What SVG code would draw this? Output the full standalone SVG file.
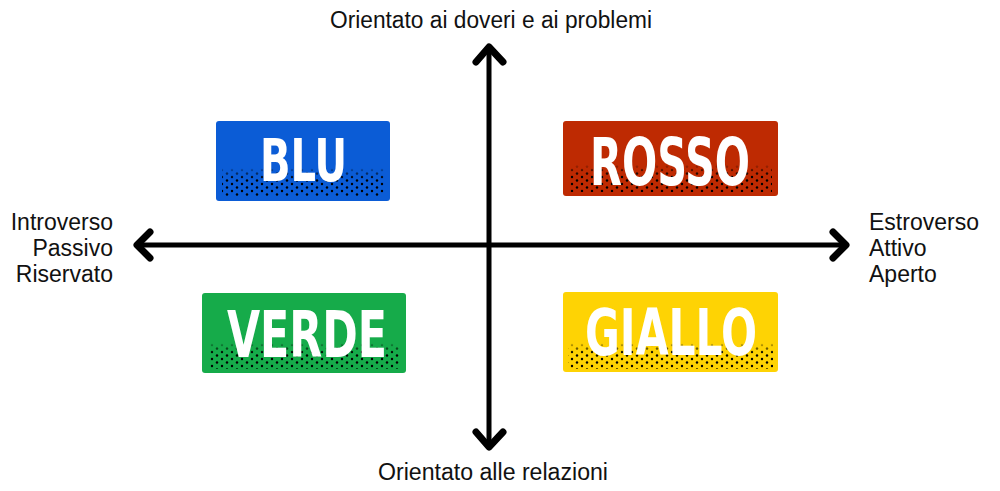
<svg xmlns="http://www.w3.org/2000/svg" width="1000" height="491" viewBox="0 0 1000 491">
<style>
.lbl{font-family:"Liberation Sans",Arial,sans-serif;font-size:23px;fill:#111}
.big{font-family:"DejaVu Sans Condensed","DejaVu Sans",sans-serif;font-weight:bold;fill:#fff;text-anchor:middle}
.ax{stroke:#000;stroke-width:5;stroke-linecap:round;fill:none}
.ah{stroke:#000;stroke-width:7;stroke-linecap:round;stroke-linejoin:round;fill:none}
</style>
<defs>
<pattern id="dots" width="10" height="7" patternUnits="userSpaceOnUse">
<circle cx="2" cy="2" r="1.2" fill="#000"/>
<circle cx="7" cy="5.5" r="1.2" fill="#000"/>
</pattern>
<linearGradient id="fade" x1="0" y1="0" x2="0" y2="1">
<stop offset="0" stop-color="#fff" stop-opacity="0.1"/>
<stop offset="0.4" stop-color="#fff" stop-opacity="1"/>
<stop offset="1" stop-color="#fff" stop-opacity="1"/>
</linearGradient>
<mask id="m" maskContentUnits="objectBoundingBox">
<rect x="0" y="0" width="1" height="1" fill="url(#fade)"/>
</mask>
</defs>
<rect width="1000" height="491" fill="#fff"/>

<g id="blu">
<rect x="216" y="121" width="174" height="80" rx="3" fill="#0b5cd6"/>
<rect x="222" y="168" width="162" height="28" fill="url(#dots)" mask="url(#m)"/>
<text class="big" x="303.5" y="181" font-size="59" textLength="87" lengthAdjust="spacingAndGlyphs">BLU</text>
</g>
<g id="rosso">
<rect x="563" y="121" width="215" height="75" rx="3" fill="#be2a02"/>
<rect x="570" y="165" width="202" height="27" fill="url(#dots)" mask="url(#m)"/>
<text class="big" x="670" y="185" font-size="65" textLength="160" lengthAdjust="spacingAndGlyphs">ROSSO</text>
</g>
<g id="verde">
<rect x="202" y="293" width="204" height="80" rx="3" fill="#16ab4a"/>
<rect x="210" y="343" width="190" height="26" fill="url(#dots)" mask="url(#m)"/>
<text class="big" x="307" y="357" font-size="64" textLength="160" lengthAdjust="spacingAndGlyphs">VERDE</text>
</g>
<g id="giallo">
<rect x="563" y="292" width="215" height="80" rx="3" fill="#fed304"/>
<rect x="568" y="343" width="205" height="26" fill="url(#dots)" mask="url(#m)"/>
<text class="big" x="671" y="355" font-size="64" textLength="172" lengthAdjust="spacingAndGlyphs">GIALLO</text>
</g>

<g id="connectors">
<line class="ax" x1="138" y1="245" x2="845" y2="245"/>
<polyline class="ah" points="150,232 137,245 150,258"/>
<polyline class="ah" points="833,232 846,245 833,258"/>
<line class="ax" x1="489" y1="48" x2="489" y2="446"/>
<polyline class="ah" points="476,62 489,47 503,62"/>
<polyline class="ah" points="476,432 489,447 503,432"/>
</g>

<g id="labels">
<text class="lbl" x="330" y="28" font-size="22" textLength="322" lengthAdjust="spacingAndGlyphs">Orientato ai doveri e ai problemi</text>
<text class="lbl" x="378" y="480" textLength="230" lengthAdjust="spacingAndGlyphs">Orientato alle relazioni</text>
<text class="lbl" x="113" y="230" text-anchor="end">Introverso</text>
<text class="lbl" x="113" y="256" text-anchor="end">Passivo</text>
<text class="lbl" x="113" y="282" text-anchor="end">Riservato</text>
<text class="lbl" x="869" y="230">Estroverso</text>
<text class="lbl" x="869" y="256">Attivo</text>
<text class="lbl" x="869" y="282">Aperto</text>
</g>
</svg>
